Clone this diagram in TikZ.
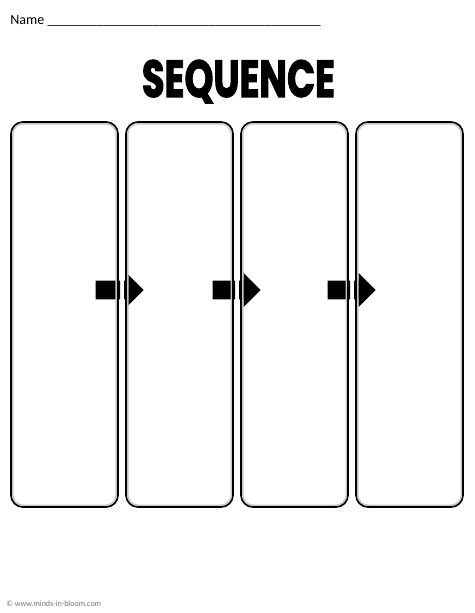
\documentclass[tikz,border=0pt]{standalone}
\usepackage{fontspec}
\setmainfont{Carlito}
\newfontfamily\titlefont{Poppins}[BoldFeatures={FakeBold=2.5}]
\usepackage{graphicx}
\usetikzlibrary{positioning,shapes.arrows,backgrounds,calc}

\tikzset{
  seqbox/.style={draw=black, line width=1.2pt, rounded corners=3mm, outer sep=0pt,
    minimum width=26.75mm, minimum height=96.25mm, inner sep=0pt},
  seqshade/.style={gray!45, line width=1pt, rounded corners=2.6mm},
  seqarrow/.style={single arrow, fill=black, anchor=tip, inner xsep=0pt, inner ysep=2.25mm,
    minimum height=12mm, minimum width=8.5mm, single arrow head extend=2mm,
    single arrow head indent=0pt}
}

\begin{document}
\begin{tikzpicture}[x=0.25mm, y=-0.25mm]
\useasboundingbox (0,0) rectangle (474,613);
\node [anchor=base west, inner sep=0pt, font=\fontsize{10}{12}\selectfont] (name) at (10,24)
{Name \_\_\_\_\_\_\_\_\_\_\_\_\_\_\_\_\_\_\_\_\_\_\_\_\_\_\_\_\_\_\_\_\_\_\_\_\_\_\_};
\node [inner sep=0pt] (title) at (238.5,81.5)
{\resizebox{48.25mm}{9.25mm}{\titlefont\bfseries SEQUENCE}};
\node [seqbox] (box1) at (64.5,314.5) {};
\node [seqbox, right=2mm of box1] (box2) {};
\node [seqbox, right=2mm of box2] (box3) {};
\node [seqbox, right=2mm of box3] (box4) {};
\foreach \b in {box1,box2,box3,box4}
  \draw [seqshade] ($(\b.north west)+(1.8,1.8)$) rectangle ($(\b.south east)+(-1.8,-1.8)$);
\begin{scope}[on background layer]
\clip ($(box1.north west)+(-2,0)$) rectangle ($(box1.south east)+(2,0)$)
  ($(box2.north west)+(-2,0)$) rectangle ($(box2.south east)+(2,0)$)
  ($(box3.north west)+(-2,0)$) rectangle ($(box3.south east)+(2,0)$)
  ($(box4.north west)+(-2,0)$) rectangle ($(box4.south east)+(2,0)$);
\node [seqarrow] (arr1) at ($(box1.east)!0.5!(box2.west)+(22,-24.5)$) {};
\node [seqarrow] (arr2) at ($(box2.east)!0.5!(box3.west)+(24,-24.5)$) {};
\node [seqarrow] (arr3) at ($(box3.east)!0.5!(box4.west)+(24,-24.5)$) {};
\end{scope}
\node [anchor=base west, inner sep=0pt, text=gray!90!black, font=\fontsize{5.7}{7}\selectfont] (credit) at (6,606)
{\textcopyright{} www.minds-in-bloom.com};
\end{tikzpicture}
\end{document}
